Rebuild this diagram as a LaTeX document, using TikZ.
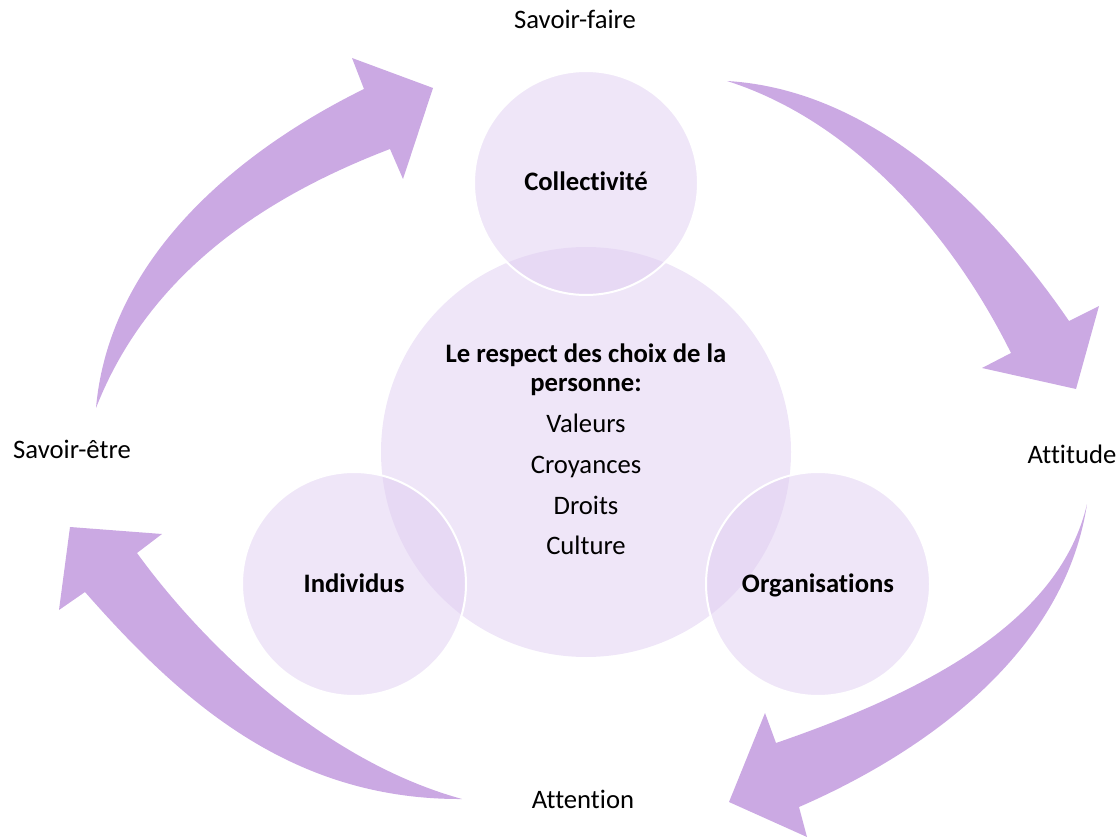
\documentclass[tikz,border=0pt]{standalone}
\usepackage{fontspec}
\setmainfont{Carlito}[Ligatures=NoCommon]
\definecolor{arrowc}{RGB}{203,169,227}
\definecolor{circfill}{RGB}{223,205,241}
\tikzset{
  bigc/.style={circle, fill=circfill, fill opacity=0.5, text opacity=1, inner sep=0pt, minimum size=307.5pt},
  smallc/.style={circle, fill=circfill, fill opacity=0.5, draw=white, line width=1.5pt, draw opacity=1, text opacity=1, inner sep=0pt, minimum size=168pt, text height=12pt, text depth=0pt, font=\fontsize{20}{24}\selectfont\bfseries},
  lbl/.style={font=\fontsize{20}{24}\selectfont, inner sep=0pt, anchor=base},
  blbl/.style={font=\fontsize{20}{24}\selectfont\bfseries, inner sep=0pt, anchor=base},
  blk/.style={fill=arrowc, draw=none}
}
\begin{document}
\begin{tikzpicture}[x=0.75pt, y=-0.75pt]
\useasboundingbox (0,0) rectangle (1120,837);
% curved block arrows
\fill[blk] (727,81) .. controls (880,90) and (1000,220) .. (1069,321) -- (1099,306) -- (1076,389) -- (982,368) -- (1011,353) .. controls (950,230) and (850,120) .. (727,81) -- cycle;
\fill[blk] (1087,504) .. controls (1065,650) and (930,750) .. (799,807) -- (807,837) -- (729,802) -- (765,713) -- (776,743) .. controls (930,690) and (1060,620) .. (1087,504) -- cycle;
\fill[blk] (462,799) .. controls (290,800) and (180,700) .. (85,592) -- (59,610) -- (70,527) -- (162,534) -- (137,553) .. controls (200,640) and (320,760) .. (462,799) -- cycle;
\fill[blk] (96,408) .. controls (110,250) and (250,145) .. (364,89) -- (352,58) -- (433,88) -- (403,179) -- (390,149) .. controls (270,195) and (150,270) .. (96,408) -- cycle;
% circles
\node[bigc] (centre) at (586,452) {};
\node[smallc] (coll) at (586,183) {Collectivité};
\node[smallc] (indiv) at (354,584) {Individus};
\node[smallc] (orga) at (818,584) {Organisations};
% central text
\node[blbl] (t1) at (586,363) {Le respect des choix de la};
\node[blbl] (t2) at (586,392) {personne:};
\node[lbl] (t3) at (586,433) {Valeurs};
\node[lbl] (t4) at (586,473) {Croyances};
\node[lbl] (t5) at (586,514) {Droits};
\node[lbl] (t6) at (586,554) {Culture};
% outer labels
\node[lbl] (sf) at (575,29) {Savoir-faire};
\node[lbl] (att) at (1072,463) {Attitude};
\node[lbl] (atn) at (583,808) {Attention};
\node[lbl] (se) at (72,459) {Savoir-être};
\end{tikzpicture}
\end{document}
